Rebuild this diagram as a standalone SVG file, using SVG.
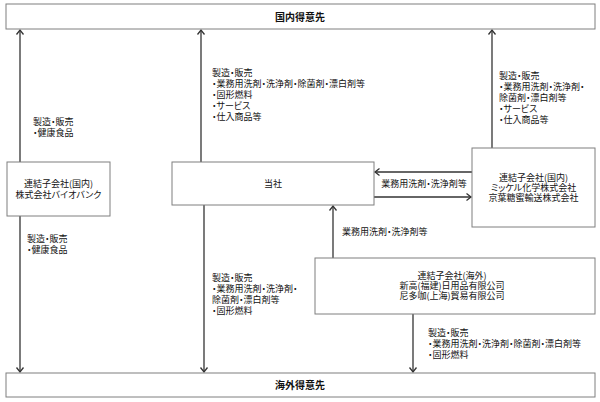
<svg xmlns="http://www.w3.org/2000/svg" width="600" height="402" viewBox="0 0 600 402">
<style>
text{font-family:"Noto Sans CJK JP","Noto Sans",sans-serif;font-size:9px;fill:#111;font-feature-settings:"palt"}
.t{font-size:10px;font-weight:bold;text-anchor:middle}
.c{text-anchor:middle}
.box{fill:#fff;stroke:#7f7f7f;stroke-width:1}
.ln{fill:none;stroke:#333;stroke-width:1.3}
</style>
<defs>
<marker id="ah" markerUnits="userSpaceOnUse" markerWidth="10" markerHeight="10" refX="8" refY="5" orient="auto">
<path d="M3.5,1.5 L8,5 L3.5,8.5" fill="none" stroke="#333" stroke-width="1.3"/>
</marker>
</defs>
<rect width="600" height="402" fill="#fff"/>
<g id="connectors">
<line class="ln" x1="20" y1="162" x2="20" y2="30" marker-end="url(#ah)"/>
<line class="ln" x1="20" y1="216" x2="20" y2="372" marker-end="url(#ah)"/>
<line class="ln" x1="201" y1="162" x2="201" y2="30" marker-end="url(#ah)"/>
<line class="ln" x1="204" y1="205" x2="204" y2="372" marker-end="url(#ah)"/>
<line class="ln" x1="492" y1="148" x2="492" y2="30" marker-end="url(#ah)"/>
<line class="ln" x1="472" y1="172" x2="375" y2="172" marker-end="url(#ah)"/>
<line class="ln" x1="374" y1="197" x2="471" y2="197" marker-end="url(#ah)"/>
<line class="ln" x1="333" y1="258" x2="333" y2="206" marker-end="url(#ah)"/>
<line class="ln" x1="413" y1="314" x2="413" y2="372" marker-end="url(#ah)"/>
<text x="33" y="125">製造・販売</text>
<text x="33" y="136">・健康食品</text>
<text x="27" y="242">製造・販売</text>
<text x="27" y="253">・健康食品</text>
<text x="212" y="76">製造・販売</text>
<text x="212" y="87">・業務用洗剤・洗浄剤・除菌剤・漂白剤等</text>
<text x="212" y="98">・固形燃料</text>
<text x="212" y="109">・サービス</text>
<text x="212" y="120">・仕入商品等</text>
<text x="499" y="79">製造・販売</text>
<text x="499" y="90">・業務用洗剤・洗浄剤・</text>
<text x="499" y="101">除菌剤・漂白剤等</text>
<text x="499" y="112">・サービス</text>
<text x="499" y="123">・仕入商品等</text>
<text x="212" y="281">製造・販売</text>
<text x="212" y="292">・業務用洗剤・洗浄剤・</text>
<text x="212" y="303">除菌剤・漂白剤等</text>
<text x="212" y="314">・固形燃料</text>
<text x="428" y="336">製造・販売</text>
<text x="428" y="347">・業務用洗剤・洗浄剤・除菌剤・漂白剤等</text>
<text x="428" y="358">・固形燃料</text>
<text class="c" x="424" y="187">業務用洗剤・洗浄剤等</text>
<text x="342" y="235">業務用洗剤・洗浄剤等</text>
</g>
<g id="domestic">
<rect class="box" x="6" y="4" width="589" height="25"/>
<text class="t" x="300" y="21">国内得意先</text>
</g>
<g id="overseas">
<rect class="box" x="6" y="373" width="589" height="24"/>
<text class="t" x="300" y="389">海外得意先</text>
</g>
<g id="biobank">
<rect class="box" x="7" y="162" width="103" height="54"/>
<text class="c" x="58.5" y="187">連結子会社(国内)</text>
<text class="c" x="58.5" y="198">株式会社バイオバンク</text>
</g>
<g id="company">
<rect class="box" x="172" y="162" width="202" height="43"/>
<text class="c" x="273" y="187">当社</text>
</g>
<g id="domestic-sub">
<rect class="box" x="472" y="148" width="123" height="79"/>
<text class="c" x="533.5" y="181">連結子会社(国内)</text>
<text class="c" x="533.5" y="191">ミッケル化学株式会社</text>
<text class="c" x="533.5" y="201">京葉糖蜜輸送株式会社</text>
</g>
<g id="overseas-sub">
<rect class="box" x="315" y="258" width="280" height="56"/>
<text class="c" x="452" y="279">連結子会社(海外)</text>
<text class="c" x="452" y="289">新高(福建)日用品有限公司</text>
<text class="c" x="452" y="299">尼多咖(上海)貿易有限公司</text>
</g>
</svg>
